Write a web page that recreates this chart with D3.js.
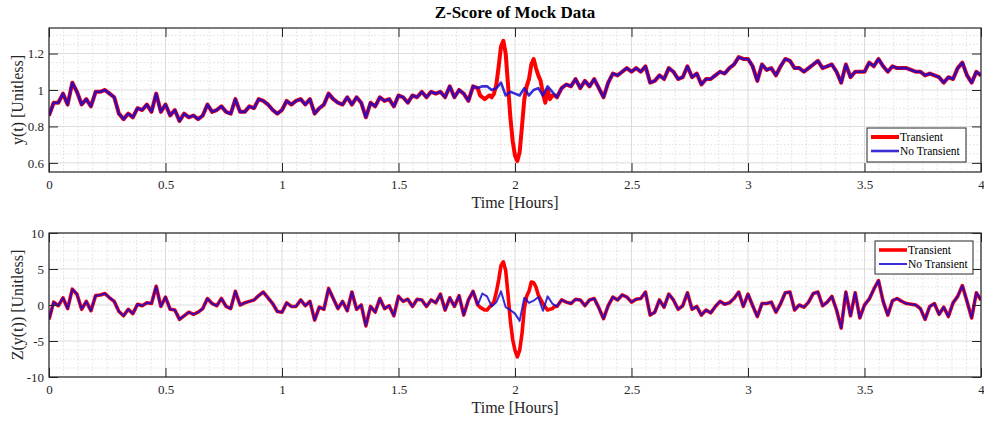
<!DOCTYPE html>
<html><head><meta charset="utf-8">
<script src="https://cdn.jsdelivr.net/npm/d3@7/dist/d3.min.js"></script>
<style>
body{margin:0;background:#fff}
svg{display:block}
text{font-family:"Liberation Serif","Times New Roman",serif;fill:#262626}
</style>
</head><body>
<svg id="chart" width="984" height="423"></svg>
<script>
// ---------------- DATA ----------------
const timeStart = 0, timeStep = 0.02, timeCount = 201;   // sampling grid in hours
const yNoTransient = [
0.86,0.93,0.93,0.98,0.92,1.04,0.99,0.92,0.95,0.91,
0.99,0.99,1.00,0.98,0.96,0.87,0.84,0.87,0.85,0.90,
0.89,0.92,0.88,0.98,0.88,0.92,0.86,0.89,0.83,0.87,
0.85,0.86,0.84,0.86,0.92,0.88,0.89,0.91,0.88,0.87,
0.95,0.88,0.88,0.91,0.90,0.95,0.94,0.92,0.89,0.87,
0.89,0.94,0.92,0.94,0.95,0.92,0.95,0.87,0.90,0.92,
0.98,0.95,0.93,0.92,0.96,0.92,0.96,0.93,0.85,0.93,
0.91,0.96,0.94,0.95,0.91,0.97,0.96,0.93,0.97,0.96,
0.99,0.96,0.99,0.98,0.99,0.96,1.02,0.96,1.00,0.98,
0.94,1.02,1.01,1.02,1.02,1.00,1.01,1.04,0.97,0.99,
0.98,0.97,1.01,0.97,1.00,1.01,0.97,1.02,0.99,0.96,
1.01,1.03,1.02,1.06,1.01,1.05,1.02,1.06,1.01,0.96,
1.04,1.09,1.08,1.10,1.12,1.10,1.12,1.10,1.13,1.04,
1.05,1.08,1.06,1.12,1.10,1.06,1.07,1.13,1.07,1.09,
1.03,1.06,1.06,1.08,1.10,1.09,1.12,1.14,1.18,1.17,
1.17,1.13,1.05,1.14,1.11,1.12,1.08,1.13,1.17,1.16,
1.12,1.12,1.10,1.12,1.14,1.16,1.12,1.13,1.14,1.10,
1.04,1.14,1.07,1.10,1.10,1.10,1.15,1.13,1.17,1.13,
1.10,1.13,1.12,1.12,1.12,1.11,1.10,1.10,1.08,1.09,
1.08,1.07,1.04,1.07,1.06,1.12,1.15,1.08,1.04,1.10,
1.08];
const zNoTransient = [
-2.0,0.4,-0.1,1.0,-0.5,2.2,1.5,-0.6,0.5,-0.8,
1.3,1.4,1.6,1.0,0.5,-0.9,-1.5,-0.6,-1.2,0.1,
-0.1,0.3,0.2,2.6,-0.2,1.1,-0.6,-0.7,-2.0,-1.5,
-1.0,-1.3,-1.0,-0.5,0.9,0.2,-0.1,0.9,-0.2,-0.5,
1.9,0.0,0.3,0.5,0.7,1.3,1.8,1.0,0.2,-0.9,
-1.0,0.3,-0.2,-0.2,0.7,-0.1,0.5,-2.1,-0.3,-0.6,
2.3,0.9,-0.5,0.5,-0.8,1.8,-0.6,0.0,-2.9,-0.2,
-1.0,0.9,-0.5,-0.1,-1.5,1.2,0.5,0.8,-0.2,0.8,
0.7,-0.2,0.7,0.3,1.5,-0.7,1.0,-0.2,1.3,-1.4,
0.7,1.9,0.0,1.6,1.2,-0.2,0.4,1.9,-0.3,-0.7,
-1.2,-2.2,1.0,0.3,0.6,1.1,-0.8,1.2,0.2,-0.2,
0.7,0.4,0.2,0.8,0.7,-0.1,0.7,0.9,-0.4,-1.9,
-0.1,1.1,0.7,1.4,1.1,0.4,0.8,0.9,1.8,-1.4,
-1.0,0.7,-0.3,1.5,0.7,-0.6,-0.1,1.7,-0.6,-0.2,
-1.4,-0.7,-1.1,-0.2,0.5,0.1,0.3,0.9,1.8,-0.2,
1.5,-0.1,-1.6,0.2,0.2,0.4,-1.0,0.2,1.7,1.8,
-0.7,0.0,-0.3,0.4,1.6,1.8,-0.1,0.4,1.2,-0.7,
-3.2,1.8,-1.5,1.7,-1.8,0.0,0.8,2.2,3.4,0.5,
-1.4,0.6,0.9,0.5,0.2,0.1,0.0,-0.5,-2.0,-0.2,
0.2,-1.3,-0.3,-1.6,0.3,1.2,2.7,0.5,-1.8,1.7,
0.7];
// transient window (finer sampling)
const transientTime = [1.84,1.85,1.86,1.87,1.88,1.89,1.90,1.91,1.92,1.93,1.94,1.95,1.96,1.97,1.98,1.99,2.00,2.01,2.02,2.03,2.04,2.05,2.06,2.07,2.08,2.09,2.10,2.11,2.12,2.13,2.14,2.15,2.16,2.17,2.18];
const yTransientWindow = [1.01,0.97,0.96,0.95,0.96,0.97,0.96,0.98,1.03,1.13,1.24,1.27,1.20,1.03,0.85,0.72,0.64,0.61,0.66,0.80,0.95,1.02,1.06,1.14,1.17,1.12,1.08,1.05,0.98,0.93,1.00,0.95,0.97,0.97,0.96];
const zTransientWindow = [0.0,-0.3,-0.5,-0.7,-0.7,-0.3,0.0,0.5,1.8,3.5,5.5,6.0,4.8,1.5,-2.2,-4.8,-6.3,-7.2,-6.3,-4.0,-0.5,1.2,1.9,3.2,3.1,2.5,1.4,0.8,0.2,-0.3,-0.7,-0.6,-0.5,-0.2,-0.2];

const xTicks = [0,0.5,1,1.5,2,2.5,3,3.5,4];
const yTicksTop = [0.6,0.8,1,1.2];
const zTicksBottom = [-10,-5,0,5,10];
const seriesNames = ["Transient","No Transient"];
const seriesColors = ["#ff0000","#1808d0"];

// ---------------- BUILD ----------------
const time = d3.range(timeCount).map(i => +(timeStart + i*timeStep).toFixed(2));
function buildTransient(base, win){
  const a = time.map((t,i)=>({t, v:base[i]}));
  const lo = transientTime[0], hi = transientTime[transientTime.length-1];
  const before = a.filter(d=>d.t < lo - 1e-9);
  const after = a.filter(d=>d.t > hi + 1e-9);
  const mid = transientTime.map((t,i)=>({t, v:win[i]}));
  return before.concat(mid, after);
}
const topBase = time.map((t,i)=>({t, v:yNoTransient[i]}));
const topTrans = buildTransient(yNoTransient, yTransientWindow);
const botBase = time.map((t,i)=>({t, v:zNoTransient[i]}));
const botTrans = buildTransient(zNoTransient, zTransientWindow);

const svg = d3.select("#chart");
svg.append("rect").attr("width",984).attr("height",423).attr("fill","#fff");

const L = 49, R = 981;

svg.append("text").attr("x",(L+R)/2).attr("y",18).attr("text-anchor","middle")
  .style("font-size","17px").style("font-weight","bold").style("fill","#000")
  .text("Z-Score of Mock Data");

function panel(opts){
  const {top, bottom, domain, ticks, minorStep, baseData, transData, ylabel, legend, redW, blueW, id} = opts;
  const x = d3.scaleLinear().domain([0,4]).range([L,R]);
  const y = d3.scaleLinear().domain(domain).range([bottom, top]);
  const g = svg.append("g");
  g.append("defs").append("clipPath").attr("id","clip"+id)
    .append("rect").attr("x",L).attr("y",top).attr("width",R-L).attr("height",bottom-top);
  g.append("rect").attr("x",L).attr("y",top).attr("width",R-L).attr("height",bottom-top).attr("fill","#fff");
  // minor grid
  const xMinor = d3.range(0,4.0001,0.0625).filter(v=>Math.abs(v*2-Math.round(v*2))>1e-6);
  g.append("g").selectAll("line").data(xMinor).join("line")
    .attr("x1",d=>x(d)).attr("x2",d=>x(d)).attr("y1",top).attr("y2",bottom)
    .attr("stroke","#d8d8d8").attr("stroke-width",0.8).attr("stroke-dasharray","1.5,2");
  const yMinor = d3.range(Math.ceil(domain[0]/minorStep)*minorStep, domain[1]+1e-9, minorStep)
    .filter(v=>!ticks.some(t=>Math.abs(t-v)<1e-6));
  g.append("g").selectAll("line").data(yMinor).join("line")
    .attr("x1",L).attr("x2",R).attr("y1",d=>y(d)).attr("y2",d=>y(d))
    .attr("stroke","#d8d8d8").attr("stroke-width",0.8).attr("stroke-dasharray","1.5,2");
  // major grid
  g.append("g").selectAll("line").data(xTicks).join("line")
    .attr("x1",d=>x(d)).attr("x2",d=>x(d)).attr("y1",top).attr("y2",bottom)
    .attr("stroke","#dcdcdc").attr("stroke-width",1);
  g.append("g").selectAll("line").data(ticks).join("line")
    .attr("x1",L).attr("x2",R).attr("y1",d=>y(d)).attr("y2",d=>y(d))
    .attr("stroke","#dcdcdc").attr("stroke-width",1);
  // lines
  const line = d3.line().x(d=>x(d.t)).y(d=>y(d.v));
  const lg = g.append("g").attr("clip-path","url(#clip"+id+")");
  lg.append("path").datum(transData).attr("d",line).attr("fill","none")
    .attr("stroke",seriesColors[0]).attr("stroke-width",redW).attr("stroke-linejoin","round");
  lg.append("path").datum(baseData).attr("d",line).attr("fill","none")
    .attr("stroke",seriesColors[1]).attr("stroke-opacity",0.85).attr("stroke-width",blueW).attr("stroke-linejoin","round");
  // axes
  const fmt = d=>String(d);
  const ax = g.append("g").attr("transform",`translate(0,${bottom})`)
    .call(d3.axisBottom(x).tickValues(xTicks).tickFormat(fmt).tickSize(-9).tickPadding(8));
  const axT = g.append("g").attr("transform",`translate(0,${top})`)
    .call(d3.axisTop(x).tickValues(xTicks).tickFormat("").tickSize(-9));
  const ay = g.append("g").attr("transform",`translate(${L},0)`)
    .call(d3.axisLeft(y).tickValues(ticks).tickFormat(fmt).tickSize(-9).tickPadding(5));
  const ayR = g.append("g").attr("transform",`translate(${R},0)`)
    .call(d3.axisRight(y).tickValues(ticks).tickFormat("").tickSize(-9));
  [ax,axT,ay,ayR].forEach(a=>{
    a.select(".domain").remove();
    a.selectAll(".tick line").attr("stroke","#262626").attr("stroke-width",1);
    a.selectAll("text").style("font-size","13px").style("font-family","'Liberation Serif',serif").attr("fill","#262626");
  });
  g.append("rect").attr("x",L).attr("y",top).attr("width",R-L).attr("height",bottom-top)
    .attr("fill","none").attr("stroke","#262626").attr("stroke-width",1.2);
  // labels
  g.append("text").attr("x",(L+R)/2).attr("y",bottom+36).attr("text-anchor","middle")
    .style("font-size","16px").text("Time [Hours]");
  g.append("text").attr("transform",`translate(23,${(top+bottom)/2}) rotate(-90)`)
    .attr("text-anchor","middle").style("font-size","16px").text(ylabel);
  // legend
  const lgd = g.append("g").attr("transform",`translate(${legend.x},${legend.y})`);
  lgd.append("rect").attr("width",legend.w).attr("height",legend.h)
    .attr("fill","#fff").attr("stroke","#262626").attr("stroke-width",1);
  seriesNames.forEach((n,i)=>{
    const yy = 9 + i*14;
    lgd.append("line").attr("x1",4).attr("x2",32).attr("y1",yy).attr("y2",yy)
      .attr("stroke",seriesColors[i]).attr("stroke-opacity",i?0.85:1).attr("stroke-width",i?blueW:redW);
    lgd.append("text").attr("x",33).attr("y",yy+4).style("font-size","11.5px").style("fill","#000").text(n);
  });
}

panel({id:1, top:28, bottom:172, domain:[0.55,1.34], ticks:yTicksTop, minorStep:0.05,
  baseData:topBase, transData:topTrans, ylabel:"y(t) [Unitless]",
  legend:{x:867,y:128,w:99,h:34}, redW:4, blueW:2.6});
panel({id:2, top:233, bottom:377, domain:[-10,10], ticks:zTicksBottom, minorStep:1.25,
  baseData:botBase, transData:botTrans, ylabel:"Z(y(t)) [Unitless]",
  legend:{x:875,y:241,w:98,h:33}, redW:3.6, blueW:2});
</script>
</body></html>
